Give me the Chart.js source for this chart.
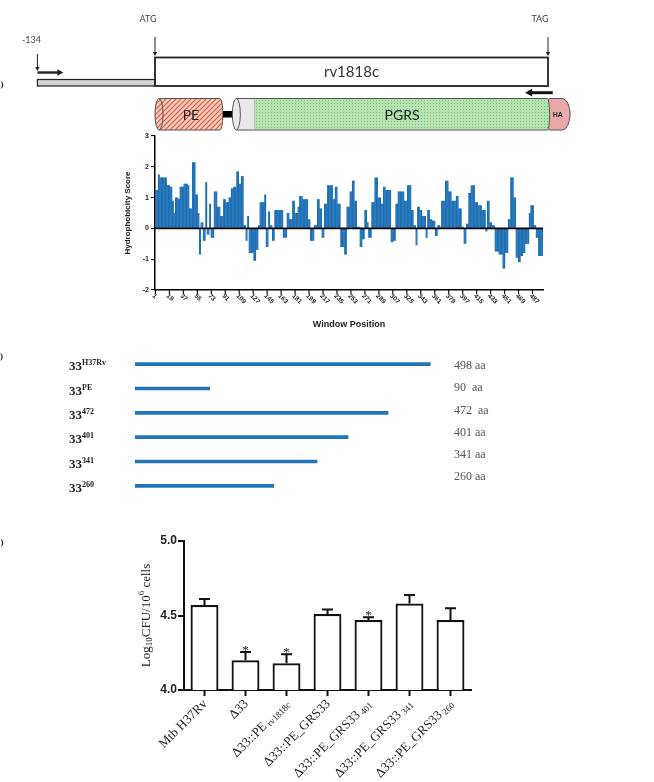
<!DOCTYPE html>
<html>
<head>
<meta charset="utf-8">
<script src="https://cdn.jsdelivr.net/npm/chart.js@4.4.1/dist/chart.umd.min.js"></script>
<style>
  html, body { margin: 0; padding: 0; background: #fff; }
  #fig { position: relative; width: 654px; height: 782px; overflow: hidden; }
  #fig canvas { position: absolute; left: 0; }
</style>
</head>
<body>
<div id="fig">
  <canvas id="geneMap" width="654" height="135" style="top:0"></canvas>
  <canvas id="hydroChart" width="654" height="215" style="top:125px"></canvas>
  <canvas id="constructChart" width="654" height="170" style="top:340px"></canvas>
  <canvas id="cfuChart" width="654" height="262" style="top:520px"></canvas>
</div>
<script>
// ---- panel A: gene map features (aa units along rv1818c) ----
var geneLength = 498;
var promoterStart = -149;
var peDomain = [0, 86];
var linker = [86, 108];
var pgrsDomain = [98, 500];
var pgrsGreenStart = 126;
var haTag = [500, 526];

// ---- panel A: hydrophobicity profile ----
var hydroScores = [
  1.25,1.25,1.25,1.25, 1.75,1.75, 1.65,1.65,1.65,1.65,1.65,1.65,1.65,1.65,1.65, 1.4,1.4,1.4,1.4,
  1.35,1.35,1.35, 0.9,0.9, 0.5,0.5, 1.0,1.0,1.0,1.0, 0.95,0.95, 1.35,1.35,1.35,1.35,1.35,
  1.45,1.45,1.45,1.45,1.45, 1.4,1.4, 0.65,0.65,0.65,0.65, 2.15,2.15,2.15,2.15, 1.1,1.1,1.1,
  0.5,0.5, -0.85,-0.85, 0.2,0.2,0.2, -0.4,-0.4,-0.4, 1.5,1.5, -0.2,-0.2,-0.2, 0.8,0.8,
  -0.3,-0.3,-0.3,-0.3, 1.2,1.2,1.2,1.2, 0.7,0.7,0.7,0.7, 0.4,0.4,0.4,0.4, 0.95,0.95,0.95,
  0.85,0.85,0.85,0.85, 1.0,1.0,1.0, 1.3,1.3,1.3, 1.35,1.35,1.35,1.35, 1.85,1.85,1.85,
  1.45,1.45,1.45, 1.7,1.7,1.7, 0.1,0.1,0.1, -0.4,-0.4, 0.4,0.4, -0.8,-0.8,-0.8,-0.8,-0.8,-0.8,
  -1.05,-1.05,-1.05, -0.7,-0.7,-0.7, 0.1,0.1, 0.85,0.85,0.85,0.85,0.85,0.85, 1.1,1.1,
  -0.6,-0.6,-0.6, 0.55,0.55, 0.1,0.1,0.1, -0.4,-0.4,-0.4,
  0.6,0.6,0.6,0.6,0.6,0.6,0.6,0.6,0.6,0.6,0.6, -0.3,-0.3,-0.3,-0.3,-0.3, 0.5,0.5,0.5,
  0.3,0.3,0.3,0.3, 0.9,0.9,0.9, 0.5,0.5,0.5,0.5, 0.7,0.7, 1.05,1.05,1.05,1.05,
  0.95,0.95,0.95,0.95,0.95,0.95,0.95, 0.3,0.3,0.3, -0.4,-0.4,-0.4,-0.4,-0.4, 0.1,0.1,0.1,0.1,
  0.95,0.95,0.95, 0.65,0.65,0.65, -0.3,-0.3,-0.3, 0.8,0.8,0.8,0.8, 1.4,1.4,1.4,1.4,1.4,1.4,1.4,
  0.95,0.95,0.95, 1.35,1.35,1.35, 0.8,0.8,0.8,0.8, -0.6,-0.6,-0.6,-0.6,-0.6, -0.85,-0.85,-0.85,
  0.7,0.7,0.7,0.7, 1.2,1.2,1.2, 1.55,1.55,1.55, 0.9,0.9,0.9, 0.05,0.05,0.05,0.05,
  -0.6,-0.6,-0.6, -0.35,-0.35,-0.35, 0.6,0.6,0.6, 0.2,0.2, -0.3,-0.3,-0.3,-0.3,
  0.85,0.85,0.85,0.85, 1.65,1.65,1.65,1.65, 1.0,1.0,1.0,1.0, 0.8,0.8,0.8, 1.35,1.35,1.35,
  1.25,1.25,1.25,1.25,1.25,1.25,1.25, -0.45,-0.45,-0.45, -0.4,-0.4,-0.4, 0.8,0.8,0.8,
  1.2,1.2,1.2,1.2,1.2,1.2,1.2,1.2, 0.9,0.9,0.9,0.9, 1.4,1.4,1.4,1.4,1.4, 0.6,0.6,0.6,
  0.1,0.1,0.1, -0.55,-0.55, 0.7,0.7,0.7, 0.6,0.6,0.6, 0.4,0.4,0.4,0.4,0.4, -0.3,-0.3,
  0.6,0.6,0.6, 0.3,0.3,0.3, 0.25,0.25,0.25,0.25, -0.25,-0.25,-0.25, 0.1,0.1,0.1, 0.05,0.05,
  0.9,0.9,0.9,0.9,0.9, 1.55,1.55,1.55,1.55, 1.2,1.2,1.2,1.2, 0.9,0.9,0.9,0.9,0.9,0.9,
  1.05,1.05,1.05, 0.65,0.65,0.65,0.65, 0.05,0.05,0.05, -0.5,-0.5,-0.5, 0.15,0.15,0.15,
  1.15,1.15,1.15, 1.4,1.4,1.4,1.4,1.4, 0.85,0.85,0.85,0.85, 0.75,0.75,0.75,0.75,0.75,
  0.6,0.6,0.6,0.6,0.6, -0.1,-0.1, 0.9,0.9,0.9, 0.2,0.2,0.2, 0.1,0.1,0.1,0.1,
  -0.75,-0.75,-0.75,-0.75,-0.75, -0.85,-0.85,-0.85,-0.85,-0.85, -1.3,-1.3,-1.3, -0.8,-0.8,-0.8,-0.8,
  0.3,0.3,0.3, 1.65,1.65,1.65,1.65, 1.0,1.0,1.0, -0.95,-0.95,-0.95, -1.1,-1.1,-1.1,
  -0.9,-0.9,-0.9, -0.8,-0.8,-0.8, -0.5,-0.5,-0.5,-0.5,-0.5, 0.5,0.5, 0.75,0.75,0.75,0.75,
  0.1,0.1,0.1, -0.3,-0.3,-0.3, -0.9,-0.9,-0.9,-0.9,-0.9,-0.9
];
var windowTickLabels = [1, 19, 37, 55, 73, 91, 109, 127, 145, 163, 181, 199, 217, 235, 253,
  271, 289, 307, 325, 343, 361, 379, 397, 415, 433, 451, 469, 487];
var windowPositions = hydroScores.map(function (v, i) { return i + 1; });

// ---- panel B: truncation constructs ----
var constructSup = ['H37Rv', 'PE', '472', '401', '341', '260'];
var constructBarLengths = [553, 140, 474, 399, 341, 260];
var constructAaLabels = ['498 aa', '90  aa', '472  aa', '401 aa', '341 aa', '260 aa'];

// ---- panel C: intracellular CFU ----
var strainMain = ['Mtb H37Rv', '\u039433', '\u039433::PE', '\u039433::PE_GRS33',
  '\u039433::PE_GRS33', '\u039433::PE_GRS33', '\u039433::PE_GRS33'];
var strainSub = ['', '', 'rv1818c', '', '401', '341', '260'];
var cfuMeans = [4.57, 4.20, 4.18, 4.51, 4.47, 4.58, 4.47];
var cfuSem = [0.04, 0.055, 0.06, 0.03, 0.018, 0.058, 0.078];
var cfuSignif = ['', '*', '*', '', '*', '', ''];

var SERIF = '"Liberation Serif", "DejaVu Serif", serif';
var SANS = '"Liberation Sans", Arial, sans-serif';

function drawRich(ctx, parts, x, y, family, weight) {
  ctx.textAlign = 'left';
  parts.forEach(function (p) {
    ctx.font = (weight || '') + ' ' + p.size + 'px ' + family;
    ctx.fillText(p.text, x, y + (p.dy || 0));
    x += ctx.measureText(p.text).width;
  });
}
function richWidth(ctx, parts, family, weight) {
  var w = 0;
  parts.forEach(function (p) {
    ctx.font = (weight || '') + ' ' + p.size + 'px ' + family;
    w += ctx.measureText(p.text).width;
  });
  return w;
}
function arrowHead(ctx, x, y, dir, size) {
  ctx.beginPath();
  if (dir === 'down') {
    ctx.moveTo(x - size * 0.55, y - size); ctx.lineTo(x + size * 0.55, y - size);
  } else if (dir === 'right') {
    ctx.moveTo(x - size, y - size * 0.55); ctx.lineTo(x - size, y + size * 0.55);
  } else {
    ctx.moveTo(x + size, y - size * 0.55); ctx.lineTo(x + size, y + size * 0.55);
  }
  ctx.lineTo(x, y);
  ctx.closePath();
  ctx.fill();
}
function makePattern(ctx, size, bg, paint) {
  var c = document.createElement('canvas');
  c.width = size; c.height = size;
  var g = c.getContext('2d');
  g.fillStyle = bg; g.fillRect(0, 0, size, size);
  paint(g, size);
  return ctx.createPattern(c, 'repeat');
}
function cylinderPath(ctx, x0, x1, top, h, rl, rr) {
  var cy = top + h / 2;
  ctx.beginPath();
  ctx.moveTo(x0 + rl, top);
  ctx.lineTo(x1 - rr, top);
  ctx.ellipse(x1 - rr, cy, rr, h / 2, 0, -Math.PI / 2, Math.PI / 2);
  ctx.lineTo(x0 + rl, top + h);
  ctx.ellipse(x0 + rl, cy, rl, h / 2, 0, Math.PI / 2, Math.PI * 1.5);
  ctx.closePath();
}

// ---------- gene map ----------
var geneMapPlugin = {
  id: 'geneMap',
  afterDraw: function (chart) {
    var ctx = chart.ctx, xs = chart.scales.x;
    function px(v) { return xs.getPixelForValue(v); }
    var g0 = px(0), g1 = px(geneLength), p0 = px(promoterStart);
    ctx.save();
    ctx.fillStyle = '#222';
    ctx.font = 'bold 9px ' + SERIF;
    ctx.textAlign = 'left'; ctx.textBaseline = 'middle';
    ctx.fillText('A)', -6, 85);

    ctx.font = '9px Lato, ' + SANS;
    ctx.fillStyle = '#444';
    ctx.textAlign = 'center';
    ctx.fillText('-134', p0 - 6, 40);
    ctx.fillText('ATG', g0 - 7, 19);
    ctx.fillText('TAG', g1 - 8, 19);

    ctx.strokeStyle = '#222'; ctx.fillStyle = '#222'; ctx.lineWidth = 1;
    [[p0, 54, 71], [g0, 37, 56], [g1, 37, 56]].forEach(function (a) {
      ctx.beginPath(); ctx.moveTo(a[0], a[1]); ctx.lineTo(a[0], a[2] - 3); ctx.stroke();
      arrowHead(ctx, a[0], a[2], 'down', 4);
    });
    // transcription start
    ctx.lineWidth = 2.4;
    ctx.beginPath(); ctx.moveTo(p0, 72.5); ctx.lineTo(p0 + 21, 72.5); ctx.stroke();
    arrowHead(ctx, p0 + 26, 72.5, 'right', 6);

    // promoter region
    ctx.fillStyle = '#d3d3d3';
    ctx.fillRect(p0, 79.5, g0 - p0, 6.5);
    ctx.lineWidth = 1.2; ctx.strokeStyle = '#222';
    ctx.strokeRect(p0, 79.5, g0 - p0, 6.5);
    // gene box
    ctx.fillStyle = '#fff';
    ctx.fillRect(g0, 57.5, g1 - g0, 28.5);
    ctx.lineWidth = 1.8;
    ctx.strokeRect(g0, 57.5, g1 - g0, 28.5);
    ctx.fillStyle = '#333';
    ctx.font = '15px Lato, ' + SANS;
    ctx.textAlign = 'center'; ctx.textBaseline = 'middle';
    ctx.fillText('rv1818c', (g0 + g1) / 2, 72.5);
    // reverse arrow
    ctx.fillStyle = '#111'; ctx.strokeStyle = '#111'; ctx.lineWidth = 3;
    ctx.beginPath(); ctx.moveTo(px(504), 92.7); ctx.lineTo(px(469) + 6, 92.7); ctx.stroke();
    arrowHead(ctx, px(469), 92.7, 'left', 7);

    // domains
    var top = 98.5, h = 31.5, cy = top + h / 2;
    var hatch = makePattern(ctx, 5, '#f5c9bb', function (g, s) {
      g.strokeStyle = '#dc5a43'; g.lineWidth = 1.1;
      g.beginPath();
      g.moveTo(0, s); g.lineTo(s, 0);
      g.moveTo(-1, 1); g.lineTo(1, -1);
      g.moveTo(s - 1, s + 1); g.lineTo(s + 1, s - 1);
      g.stroke();
    });
    var dots = makePattern(ctx, 3, '#b7e2b1', function (g) {
      g.fillStyle = '#72bf70'; g.fillRect(1, 1, 1, 1);
    });
    ctx.lineWidth = 1; ctx.strokeStyle = '#555';
    // PE
    cylinderPath(ctx, px(peDomain[0]), px(peDomain[1]), top, h, 4, 3);
    ctx.fillStyle = hatch; ctx.fill(); ctx.stroke();
    ctx.beginPath(); ctx.ellipse(px(peDomain[0]) + 4, cy, 4, h / 2, 0, -Math.PI / 2, Math.PI / 2); ctx.stroke();
    // linker
    ctx.fillStyle = '#000';
    ctx.fillRect(px(linker[0]), 111, px(linker[1]) - px(linker[0]), 6.5);
    // HA
    cylinderPath(ctx, px(haTag[0]) - 4, px(haTag[1]), top, h, 4, 8);
    ctx.fillStyle = '#e8a9a8'; ctx.fill(); ctx.stroke();
    // PGRS
    cylinderPath(ctx, px(pgrsDomain[0]), px(pgrsDomain[1]), top, h, 4, 2);
    ctx.fillStyle = '#e9e9e9'; ctx.fill();
    ctx.save(); ctx.clip();
    ctx.fillStyle = dots;
    ctx.fillRect(px(pgrsGreenStart), top, px(pgrsDomain[1]) - px(pgrsGreenStart), h);
    ctx.restore();
    cylinderPath(ctx, px(pgrsDomain[0]), px(pgrsDomain[1]), top, h, 4, 2);
    ctx.stroke();
    ctx.beginPath(); ctx.ellipse(px(pgrsDomain[0]) + 4, cy, 4, h / 2, 0, -Math.PI / 2, Math.PI / 2); ctx.stroke();
    ctx.beginPath(); ctx.moveTo(px(pgrsGreenStart), top); ctx.lineTo(px(pgrsGreenStart), top + h);
    ctx.strokeStyle = '#bbb'; ctx.stroke();

    ctx.fillStyle = '#222';
    ctx.font = '14px Lato, ' + SANS;
    ctx.fillText('PE', (px(peDomain[0]) + px(peDomain[1])) / 2 + 2, cy + 1);
    ctx.fillText('PGRS', (px(pgrsGreenStart) + px(pgrsDomain[1])) / 2, cy + 1);
    ctx.font = 'bold 7px ' + SANS;
    ctx.fillText('HA', (px(haTag[0]) + px(haTag[1])) / 2 - 2, cy + 1);
    ctx.restore();
  }
};

new Chart(document.getElementById('geneMap'), {
  type: 'scatter',
  data: { datasets: [] },
  options: {
    responsive: false, animation: false,
    layout: { padding: { left: 155, right: 106, top: 0, bottom: 0 } },
    scales: {
      x: { type: 'linear', min: 0, max: geneLength, display: false },
      y: { display: false }
    },
    plugins: { legend: { display: false }, tooltip: { enabled: false } }
  },
  plugins: [geneMapPlugin]
});

// ---------- hydrophobicity ----------
var hydroAxisPlugin = {
  id: 'hydroAxis',
  afterDatasetsDraw: function (chart) {
    var ctx = chart.ctx, a = chart.chartArea, y0 = chart.scales.y.getPixelForValue(0);
    ctx.save();
    ctx.strokeStyle = '#000'; ctx.lineWidth = 1.6;
    ctx.beginPath(); ctx.moveTo(a.left, y0); ctx.lineTo(a.right, y0); ctx.stroke();
    ctx.restore();
  },
  afterDraw: function (chart) {
    var ctx = chart.ctx, xs = chart.scales.x, a = chart.chartArea;
    ctx.save();
    ctx.strokeStyle = '#000'; ctx.lineWidth = 1.1;
    ctx.fillStyle = '#222';
    ctx.font = 'bold 6.5px ' + SANS;
    ctx.textAlign = 'left'; ctx.textBaseline = 'middle';
    windowTickLabels.forEach(function (pos) {
      var x = xs.getPixelForValue(windowPositions.indexOf(pos));
      ctx.beginPath(); ctx.moveTo(x, a.bottom); ctx.lineTo(x, a.bottom + 4); ctx.stroke();
      ctx.save();
      ctx.translate(x - 2, a.bottom + 5);
      ctx.rotate(Math.PI / 4);
      ctx.fillText(String(pos), 0, 0);
      ctx.restore();
    });
    ctx.font = 'bold 9px ' + SANS;
    ctx.textAlign = 'center';
    ctx.fillText('Window Position', (a.left + a.right) / 2, a.bottom + 35);
    ctx.restore();
  }
};

new Chart(document.getElementById('hydroChart'), {
  type: 'bar',
  data: {
    labels: windowPositions,
    datasets: [{
      data: hydroScores,
      backgroundColor: '#1c6eb4',
      borderWidth: 0,
      barPercentage: 1.5,
      categoryPercentage: 1
    }]
  },
  options: {
    responsive: false, animation: false,
    layout: { padding: { left: 118, right: 111, top: 11, bottom: 0 } },
    plugins: { legend: { display: false }, tooltip: { enabled: false } },
    scales: {
      x: {
        grid: { display: false },
        ticks: { display: false },
        border: { color: '#000', width: 1.5 },
        afterFit: function (s) { s.height = 50; }
      },
      y: {
        min: -2, max: 3,
        ticks: { stepSize: 1, color: '#222', padding: 2, font: { family: SANS, size: 7, weight: 'bold' } },
        grid: { drawOnChartArea: false, color: '#000', tickLength: 4, lineWidth: 1.1 },
        border: { color: '#000', width: 1.5 },
        title: { display: true, text: 'Hydrophobicity Score', color: '#222',
          font: { family: SANS, size: 8, weight: 'bold' }, padding: { top: 5, bottom: 0 } },
        afterFit: function (s) { s.width = 37; }
      }
    }
  },
  plugins: [hydroAxisPlugin]
});

// ---------- constructs ----------
var constructLabelsPlugin = {
  id: 'constructLabels',
  afterDraw: function (chart) {
    var ctx = chart.ctx, ys = chart.scales.y;
    ctx.save();
    ctx.fillStyle = '#222';
    ctx.textBaseline = 'alphabetic';
    ctx.font = 'bold 9px ' + SERIF;
    ctx.fillText('B)', -6, 19);
    constructSup.forEach(function (sup, i) {
      var y = ys.getPixelForValue(i) + 6;
      drawRich(ctx, [{ text: '33', size: 13 }, { text: sup, size: 8, dy: -5 }], 69, y, SERIF, 'bold');
    });
    ctx.fillStyle = '#555';
    ctx.font = '12px ' + SERIF;
    var y0 = ys.getPixelForValue(0) + 2;
    constructAaLabels.forEach(function (t, i) {
      ctx.textBaseline = 'middle';
      ctx.fillText(t, chart.chartArea.right + 20, y0 + i * 22.1);
    });
    ctx.restore();
  }
};

new Chart(document.getElementById('constructChart'), {
  type: 'bar',
  data: {
    labels: constructSup,
    datasets: [{ data: constructBarLengths, backgroundColor: '#2275b8', borderWidth: 0, barThickness: 3 }]
  },
  options: {
    indexAxis: 'y',
    responsive: false, animation: false,
    layout: { padding: { left: 135, right: 220, top: 12, bottom: 12 } },
    scales: {
      x: { display: false, min: 0, max: 560 },
      y: { display: false }
    },
    plugins: { legend: { display: false }, tooltip: { enabled: false } }
  },
  plugins: [constructLabelsPlugin]
});

// ---------- CFU ----------
var cfuDecorPlugin = {
  id: 'cfuDecor',
  afterDatasetsDraw: function (chart) {
    var ctx = chart.ctx, ys = chart.scales.y, meta = chart.getDatasetMeta(0);
    ctx.save();
    ctx.strokeStyle = '#111'; ctx.lineWidth = 2;
    meta.data.forEach(function (bar, i) {
      var yb = ys.getPixelForValue(cfuMeans[i]), yt = ys.getPixelForValue(cfuMeans[i] + cfuSem[i]);
      ctx.beginPath();
      ctx.moveTo(bar.x, yb); ctx.lineTo(bar.x, yt);
      ctx.moveTo(bar.x - 5.5, yt); ctx.lineTo(bar.x + 5.5, yt);
      ctx.stroke();
      if (cfuSignif[i]) {
        ctx.fillStyle = '#222';
        ctx.font = '13px ' + SERIF;
        ctx.textAlign = 'center'; ctx.textBaseline = 'alphabetic';
        ctx.fillText(cfuSignif[i], bar.x, yt + 2);
      }
    });
    ctx.restore();
  },
  afterDraw: function (chart) {
    var ctx = chart.ctx, xs = chart.scales.x, a = chart.chartArea;
    ctx.save();
    ctx.fillStyle = '#222';
    ctx.font = 'bold 9px ' + SERIF;
    ctx.textBaseline = 'alphabetic';
    ctx.fillText('C)', -6, 25);
    ctx.strokeStyle = '#111'; ctx.lineWidth = 2;
    ctx.textBaseline = 'middle';
    strainMain.forEach(function (name, i) {
      var x = xs.getPixelForValue(i);
      ctx.beginPath(); ctx.moveTo(x, a.bottom); ctx.lineTo(x, a.bottom + 6); ctx.stroke();
      var parts = [{ text: name, size: 13 }];
      if (strainSub[i]) parts.push({ text: ' ' + strainSub[i], size: 9, dy: 3 });
      var w = richWidth(ctx, parts, SERIF, '');
      ctx.save();
      ctx.translate(x + 1, a.bottom + 12);
      ctx.rotate(-Math.PI / 4);
      drawRich(ctx, parts, -w, 0, SERIF, '');
      ctx.restore();
    });
    // y title
    var title = [{ text: 'Log', size: 13 }, { text: '10', size: 9, dy: 3 }, { text: 'CFU/10', size: 13 },
      { text: '6', size: 9, dy: -5 }, { text: ' cells', size: 13 }];
    var tw = richWidth(ctx, title, SERIF, '');
    ctx.save();
    ctx.translate(a.left - 37, (a.top + a.bottom) / 2);
    ctx.rotate(-Math.PI / 2);
    drawRich(ctx, title, -tw / 2, 0, SERIF, '');
    ctx.restore();
    ctx.restore();
  }
};

new Chart(document.getElementById('cfuChart'), {
  type: 'bar',
  data: {
    labels: strainMain.map(function (m, i) { return strainSub[i] ? m + ' ' + strainSub[i] : m; }),
    datasets: [{
      data: cfuMeans,
      backgroundColor: '#fff',
      borderColor: '#111',
      borderWidth: 2.2,
      barPercentage: 0.68,
      categoryPercentage: 1
    }]
  },
  options: {
    responsive: false, animation: false,
    layout: { padding: { left: 130, right: 183, top: 21, bottom: 0 } },
    plugins: { legend: { display: false }, tooltip: { enabled: false } },
    scales: {
      x: {
        grid: { display: false },
        ticks: { display: false },
        border: { color: '#111', width: 2 },
        afterFit: function (s) { s.height = 92; }
      },
      y: {
        min: 4, max: 5,
        ticks: { stepSize: 0.5, color: '#222', padding: 1,
          callback: function (v) { return v.toFixed(1); },
          font: { family: SANS, size: 12, weight: 'bold' } },
        grid: { drawOnChartArea: false, color: '#111', tickLength: 6, lineWidth: 2 },
        border: { color: '#111', width: 2 },
        afterFit: function (s) { s.width = 54; }
      }
    }
  },
  plugins: [cfuDecorPlugin]
});
</script>
</body>
</html>
